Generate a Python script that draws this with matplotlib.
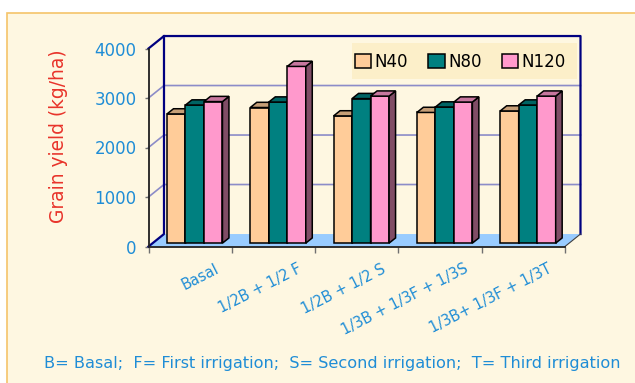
import numpy as np
import matplotlib.pyplot as plt
from matplotlib.patches import Polygon, Rectangle
from matplotlib.colors import to_rgb

categories = ["Basal", "1/2B + 1/2 F", "1/2B + 1/2 S", "1/3B + 1/3F + 1/3S", "1/3B+ 1/3F + 1/3T"]
series = ["N40", "N80", "N120"]
n40 = [2610, 2740, 2570, 2640, 2670]
n80 = [2790, 2850, 2920, 2750, 2790]
n120 = [2860, 3570, 2970, 2850, 2970]
yticks = [0, 1000, 2000, 3000, 4000]
colors = ["#FFCC99", "#008080", "#FF99CC"]
footer = "B= Basal;  F= First irrigation;  S= Second irrigation;  T= Third irrigation"

cream = "#FEF7E1"
blue = "#1F8DD6"
navy = "#000080"

W, H = 635, 383
fig = plt.figure(figsize=(W / 100, H / 100), dpi=100)
fig.patch.set_facecolor("white")
fig.patches.append(Rectangle((7 / W, -0.05), 1.0, (H - 13) / H + 0.05, transform=fig.transFigure,
                             facecolor=cream, edgecolor="#F5C46A", lw=1.2, zorder=-10))

ax = fig.add_axes([148.5 / W, (H - 246.5) / H, 416.5 / W, 198 / H])
ax.set_xlim(-0.5, len(categories) - 0.5)
ax.set_ylim(yticks[0], yticks[-1])
ax.patch.set_visible(False)
for s in ax.spines.values():
    s.set_visible(False)

# depth of the "3d" box
dx, dy = 0.186, 252
x0, x1 = -0.5, len(categories) - 0.5
top = yticks[-1]

ax.add_patch(Polygon([(x0, 0), (x1, 0), (x1 + dx, dy), (x0 + dx, dy)], closed=True,
                     facecolor="#99CCFF", edgecolor="none", clip_on=False, zorder=1))
for v in yticks[1:-1]:
    ax.plot([x0, x0 + dx, x1 + dx], [v, v + dy, v + dy], color="#8C8CC8", lw=1.2, clip_on=False, zorder=1)

# walls
ax.plot([x0, x0 + dx, x0 + dx], [0, dy, top + dy], color=navy, lw=1.6, clip_on=False, zorder=2)
ax.plot([x0, x0 + dx, x1 + dx, x1 + dx], [top, top + dy, top + dy, dy], color=navy, lw=1.6,
        clip_on=False, zorder=2)
ax.plot([x1, x1 + dx], [0, dy], color="#404040", lw=0.8, clip_on=False, zorder=2)
ax.plot([x0, x0, x1], [top, 0, 0], color="#202020", lw=1.3, clip_on=False, zorder=6)

# bars
bw = 0.222
sx, sy = 0.055, 68       # bar placement inside the box
bdx, bdy = 0.078, 105    # bar depth
x = np.arange(len(categories))
for j, (vals, c) in enumerate(zip([n40, n80, n120], colors)):
    rgb = np.array(to_rgb(c))
    xs = x + (j - 1) * bw + sx
    ax.bar(xs, vals, width=bw, bottom=sy, color=c, edgecolor="black", lw=1.1,
           clip_on=False, zorder=3, label=series[j])
    for xi, v in zip(xs, vals):
        l, r, t = xi - bw / 2, xi + bw / 2, sy + v
        ax.add_patch(Polygon([(r, sy), (r + bdx, sy + bdy), (r + bdx, t + bdy), (r, t)], closed=True,
                             facecolor=rgb * 0.5, edgecolor="black", lw=1.1, clip_on=False, zorder=3))
        ax.add_patch(Polygon([(l, t), (l + bdx, t + bdy), (r + bdx, t + bdy), (r, t)], closed=True,
                             facecolor=rgb * 0.78, edgecolor="black", lw=1.1, clip_on=False, zorder=3))

ax.set_yticks(yticks)
ax.tick_params(axis="y", direction="out", length=3, width=1, color="#707070",
               labelcolor=blue, labelsize=12, pad=5.5)
ax.set_xticks(np.arange(len(categories) + 1) - 0.5, minor=True)
ax.set_xticks(x + 0.29)
ax.set_xticklabels(categories, rotation=27, ha="right", va="top", rotation_mode="anchor")
ax.tick_params(axis="x", which="minor", direction="out", length=4, width=1, color="#707070")
ax.tick_params(axis="x", which="major", length=0, labelcolor=blue, labelsize=10.5, pad=10.5)

ax.set_ylabel("Grain yield (kg/ha)", color="#E8332A", fontsize=13.4)
ax.yaxis.set_label_coords(-0.194, 0.556)

ax.add_patch(Rectangle((351.7 / W, (H - 79.3) / H), 225.3 / W, 36 / H, transform=fig.transFigure,
                       facecolor="#FCEFC9", edgecolor="none", clip_on=False, zorder=4))
leg = ax.legend(loc="center", bbox_to_anchor=(460.3 / W, (H - 61.8) / H), bbox_transform=fig.transFigure,
                ncol=3, frameon=False, fontsize=12, handlelength=1.0, handleheight=0.9,
                handletextpad=0.2, columnspacing=1.2, borderpad=0)
leg.set_zorder(5)

fig.text(332.5 / W, (H - 368) / H, footer, ha="center", va="baseline", color=blue, fontsize=11.6)

fig.savefig("out.png", dpi=100)
